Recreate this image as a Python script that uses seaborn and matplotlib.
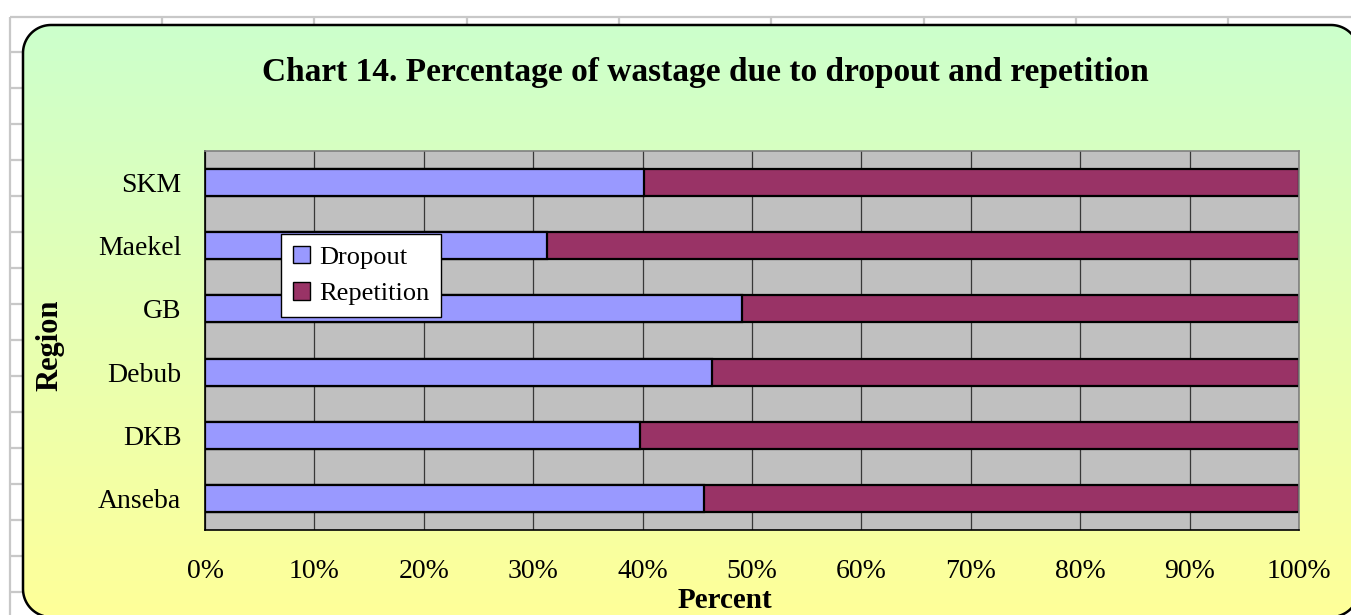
#!/usr/bin/env python3
"""Chart 14: percentage of wastage due to dropout and repetition, by region."""

import matplotlib

matplotlib.use("Agg")

import matplotlib.pyplot as plt
import numpy as np
import pandas as pd
import seaborn as sns
from matplotlib.patches import Patch, Polygon
from matplotlib.ticker import FixedLocator, PercentFormatter

REGIONS = ["SKM", "Maekel", "GB", "Debub", "DKB", "Anseba"]
DROPOUT = [40.1, 31.3, 49.1, 46.3, 39.8, 45.6]
REPETITION = [59.9, 68.7, 50.9, 53.7, 60.2, 54.4]
X_TICKS = [0, 10, 20, 30, 40, 50, 60, 70, 80, 90, 100]

TITLE = "Chart 14. Percentage of wastage due to dropout and repetition"
DROPOUT_COLOR = "#9999FF"
REPETITION_COLOR = "#993366"
PLOT_BG = "#C0C0C0"
GRAD_TOP = np.array([204, 255, 204]) / 255
GRAD_BOTTOM = np.array([255, 255, 153]) / 255

W, H = 1351, 615


def rounded_outline(x0, y0, x1, y1, r, n=24):
    """Outline of a rounded rectangle in pixel coords (y grows downward)."""
    corners = [((x0 + r, y0 + r), 180, 270), ((x1 - r, y0 + r), 270, 360),
               ((x1 - r, y1 - r), 0, 90), ((x0 + r, y1 - r), 90, 180)]
    pts = []
    for (cx, cy), a0, a1 in corners:
        t = np.radians(np.linspace(a0, a1, n))
        pts.append(np.column_stack([cx + r * np.cos(t), cy + r * np.sin(t)]))
    return np.vstack(pts)


sns.set_style("white")
plt.rcParams["font.family"] = ["Liberation Serif", "DejaVu Serif"]
plt.rcParams.update({"text.color": "black", "axes.labelcolor": "black",
                     "xtick.color": "black", "ytick.color": "black"})

fig = plt.figure(figsize=(W / 100, H / 100), dpi=100)

# background: spreadsheet grid + rounded chart area with gradient
bg = fig.add_axes([0, 0, 1, 1])
sheet = dict(color="#c8c8c8", lw=1.6, solid_capstyle="butt")
bg.plot([10, 10], [17, H], **sheet)
bg.plot([10, W], [17, 17], **sheet)
for x in [162, 314, 467, 619, 771, 924, 1076, 1228]:
    bg.plot([x, x], [17, 25], **sheet)
for y in range(52, H, 36):
    bg.plot([10, 23], [y, y], **sheet)

ramp = np.linspace(0, 1, 256)[:, None, None]
grad = GRAD_TOP + (GRAD_BOTTOM - GRAD_TOP) * ramp
im = bg.imshow(grad, extent=[23, 1359, 617, 25], aspect="auto", zorder=1)
box = Polygon(rounded_outline(23, 25, 1359, 617, 28), closed=True,
              fc="none", ec="black", lw=1.8, zorder=3)
bg.add_patch(box)
im.set_clip_path(box)
bg.set_xlim(0, W)
bg.set_ylim(H, 0)
bg.axis("off")

# plot area
ax = fig.add_axes([205 / W, 1 - 530 / H, 1094 / W, 379 / H])
ax.set_facecolor(PLOT_BG)

df = pd.DataFrame({"Region": REGIONS, "Dropout": DROPOUT, "Repetition": REPETITION})
df["Total"] = df["Dropout"] + df["Repetition"]

bar_kw = dict(y="Region", orient="h", saturation=1, width=0.43,
              edgecolor="black", linewidth=1.6, errorbar=None, ax=ax)
sns.barplot(data=df, x="Total", color=REPETITION_COLOR, **bar_kw)
sns.barplot(data=df, x="Dropout", color=DROPOUT_COLOR, **bar_kw)

ax.set_xlim(0, 100)
ax.set_ylim(len(REGIONS) - 0.5, -0.5)
ax.set_axisbelow(True)
ax.xaxis.grid(True, color="#383838", lw=0.9)
ax.yaxis.grid(False)

ax.set_xticks(X_TICKS)
ax.xaxis.set_major_formatter(PercentFormatter(decimals=0))
ax.tick_params(axis="x", length=7, width=1, pad=14, labelsize=20)
ax.tick_params(axis="y", which="major", length=0, pad=17, labelsize=20)
ax.yaxis.set_minor_locator(FixedLocator(np.arange(-0.5, len(REGIONS), 1)))
ax.tick_params(axis="y", which="minor", length=8, width=1)
ax.set_xlabel("")
ax.set_ylabel("")

for side in ("left", "bottom"):
    ax.spines[side].set_color("black")
    ax.spines[side].set_linewidth(1.2)
for side in ("top", "right"):
    ax.spines[side].set_color("#808080")
    ax.spines[side].set_linewidth(1.2)

handles = [Patch(facecolor=DROPOUT_COLOR, edgecolor="black", label="Dropout"),
           Patch(facecolor=REPETITION_COLOR, edgecolor="black", label="Repetition")]
leg = ax.legend(handles=handles, loc="upper left", bbox_to_anchor=(0.0695, 0.781),
                borderaxespad=0, fontsize=19, frameon=True, fancybox=False,
                handlelength=0.65, handleheight=0.65, handletextpad=0.35,
                labelspacing=0.5, borderpad=0.45)
leg.get_frame().set_edgecolor("black")
leg.get_frame().set_linewidth(1)
leg.get_frame().set_facecolor("white")
leg.get_frame().set_alpha(1)

fig.text(705 / W, 1 - 73 / H, TITLE, ha="center", va="center",
         fontsize=24, fontweight="bold")
fig.text(50 / W, 1 - 345 / H, "Region", ha="center", va="center",
         rotation=90, fontsize=22, fontweight="bold")
fig.text(725 / W, 1 - 600 / H, "Percent", ha="center", va="center",
         fontsize=21, fontweight="bold")

fig.savefig("out.png", dpi=100)
